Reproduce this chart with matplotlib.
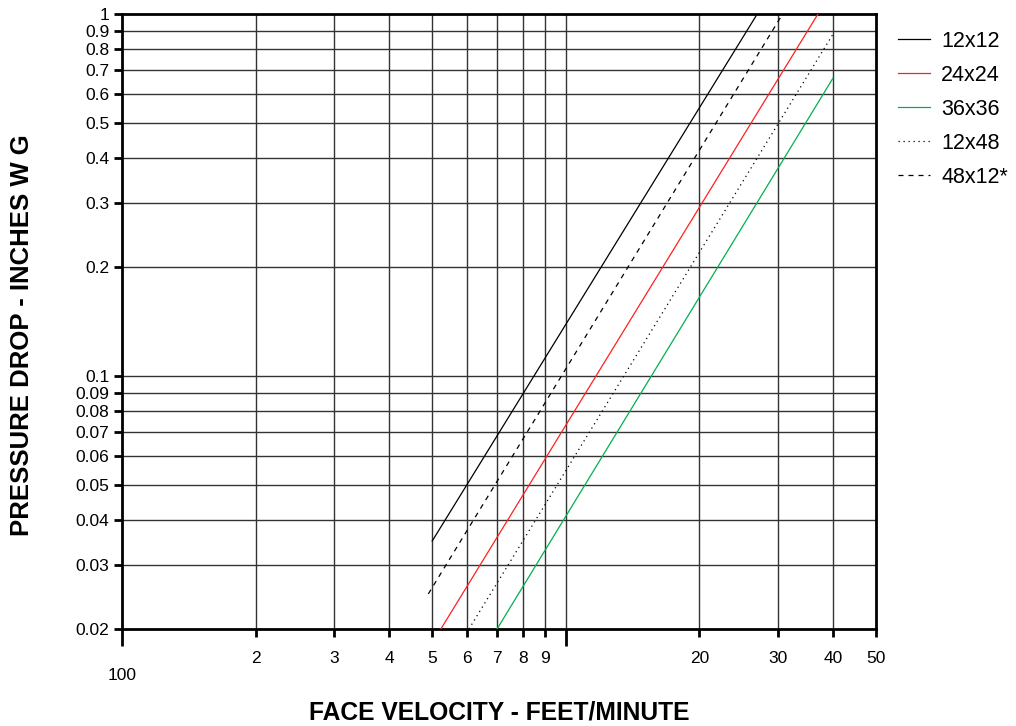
import matplotlib
matplotlib.use("Agg")
import matplotlib.pyplot as plt
from matplotlib.ticker import FixedLocator, NullLocator

plt.rcParams['font.family'] = ['Liberation Sans', 'DejaVu Sans']

# Data (endpoints of straight lines on log-log axes)
series_names = ["12x12", "24x24", "36x36", "12x48", "48x12*"]
vel_12x12 = [500, 2700]
dp_12x12 = [0.035, 1.0]
vel_24x24 = [523, 3700]
dp_24x24 = [0.02, 1.0]
vel_36x36 = [700, 4000]
dp_36x36 = [0.02, 0.665]
vel_12x48 = [605, 4000]
dp_12x48 = [0.02, 0.88]
vel_48x12 = [490, 3080]
dp_48x12 = [0.025, 1.0]

x_ticks = [100, 200, 300, 400, 500, 600, 700, 800, 900, 1000, 2000, 3000, 4000, 5000]
x_labels = ["", "2", "3", "4", "5", "6", "7", "8", "9", "", "20", "30", "40", "50"]
y_ticks = [0.02, 0.03, 0.04, 0.05, 0.06, 0.07, 0.08, 0.09, 0.1,
           0.2, 0.3, 0.4, 0.5, 0.6, 0.7, 0.8, 0.9, 1.0]
y_labels = ["0.02", "0.03", "0.04", "0.05", "0.06", "0.07", "0.08", "0.09", "0.1",
            "0.2", "0.3", "0.4", "0.5", "0.6", "0.7", "0.8", "0.9", "1"]

fig = plt.figure(figsize=(10.16, 7.26), dpi=100)
ax = fig.add_axes([122/1016, (726-629)/726, 754/1016, 615/726])
ax.set_xscale('log')
ax.set_yscale('log')
ax.set_xlim(100, 5000)
ax.set_ylim(0.02, 1.0)

gridc = '#333333'
for xv in x_ticks[1:-1]:
    ax.axvline(xv, color=gridc, lw=1.0, zorder=1)
for yv in y_ticks[1:-1]:
    ax.axhline(yv, color=gridc, lw=1.0, zorder=1)

ax.plot(vel_12x12, dp_12x12, color='black', lw=0.9, ls='-', label=series_names[0], zorder=3)
ax.plot(vel_24x24, dp_24x24, color='#ff2020', lw=0.9, ls='-', label=series_names[1], zorder=3)
ax.plot(vel_36x36, dp_36x36, color='#00b050', lw=0.9, ls='-', label=series_names[2], zorder=3)
ax.plot(vel_12x48, dp_12x48, color='black', lw=0.9, ls=(0, (1, 3)), label=series_names[3], zorder=3)
ax.plot(vel_48x12, dp_48x12, color='black', lw=0.9, ls=(0, (4, 4)), label=series_names[4], zorder=3)

ax.xaxis.set_major_locator(FixedLocator(x_ticks))
ax.xaxis.set_minor_locator(NullLocator())
ax.set_xticklabels(x_labels)
ax.yaxis.set_major_locator(FixedLocator(y_ticks))
ax.yaxis.set_minor_locator(NullLocator())
ax.set_yticklabels(y_labels)
ax.tick_params(axis='both', direction='out', length=6, width=2, labelsize=12.5, colors='black')
ax.tick_params(axis='x', pad=10)
ax.tick_params(axis='y', pad=3)

for t, xv in zip(ax.xaxis.get_major_ticks(), x_ticks):
    if xv in (100, 1000):
        t.tick1line.set_markersize(12)

ax.text(100, -0.075, "100", transform=ax.get_xaxis_transform(), ha='center', va='center', fontsize=12.5)

for s in ax.spines.values():
    s.set_linewidth(2)
    s.set_color('black')

fig.text(499/1016, 1 - 712/726, "FACE VELOCITY - FEET/MINUTE", fontsize=17.7, fontweight='bold',
         ha='center', va='center')
fig.text(22/1016, 1 - 335/726, "PRESSURE DROP - INCHES W G", fontsize=18.5, fontweight='bold',
         ha='center', va='center', rotation=90)

leg = fig.legend(loc='upper left', bbox_to_anchor=(898/1016, 1 - 31/726), frameon=False, fontsize=15.5,
                 handlelength=1.5, labelspacing=0.6, handletextpad=0.5, borderpad=0, borderaxespad=0)

fig.savefig("out.png", dpi=100)
